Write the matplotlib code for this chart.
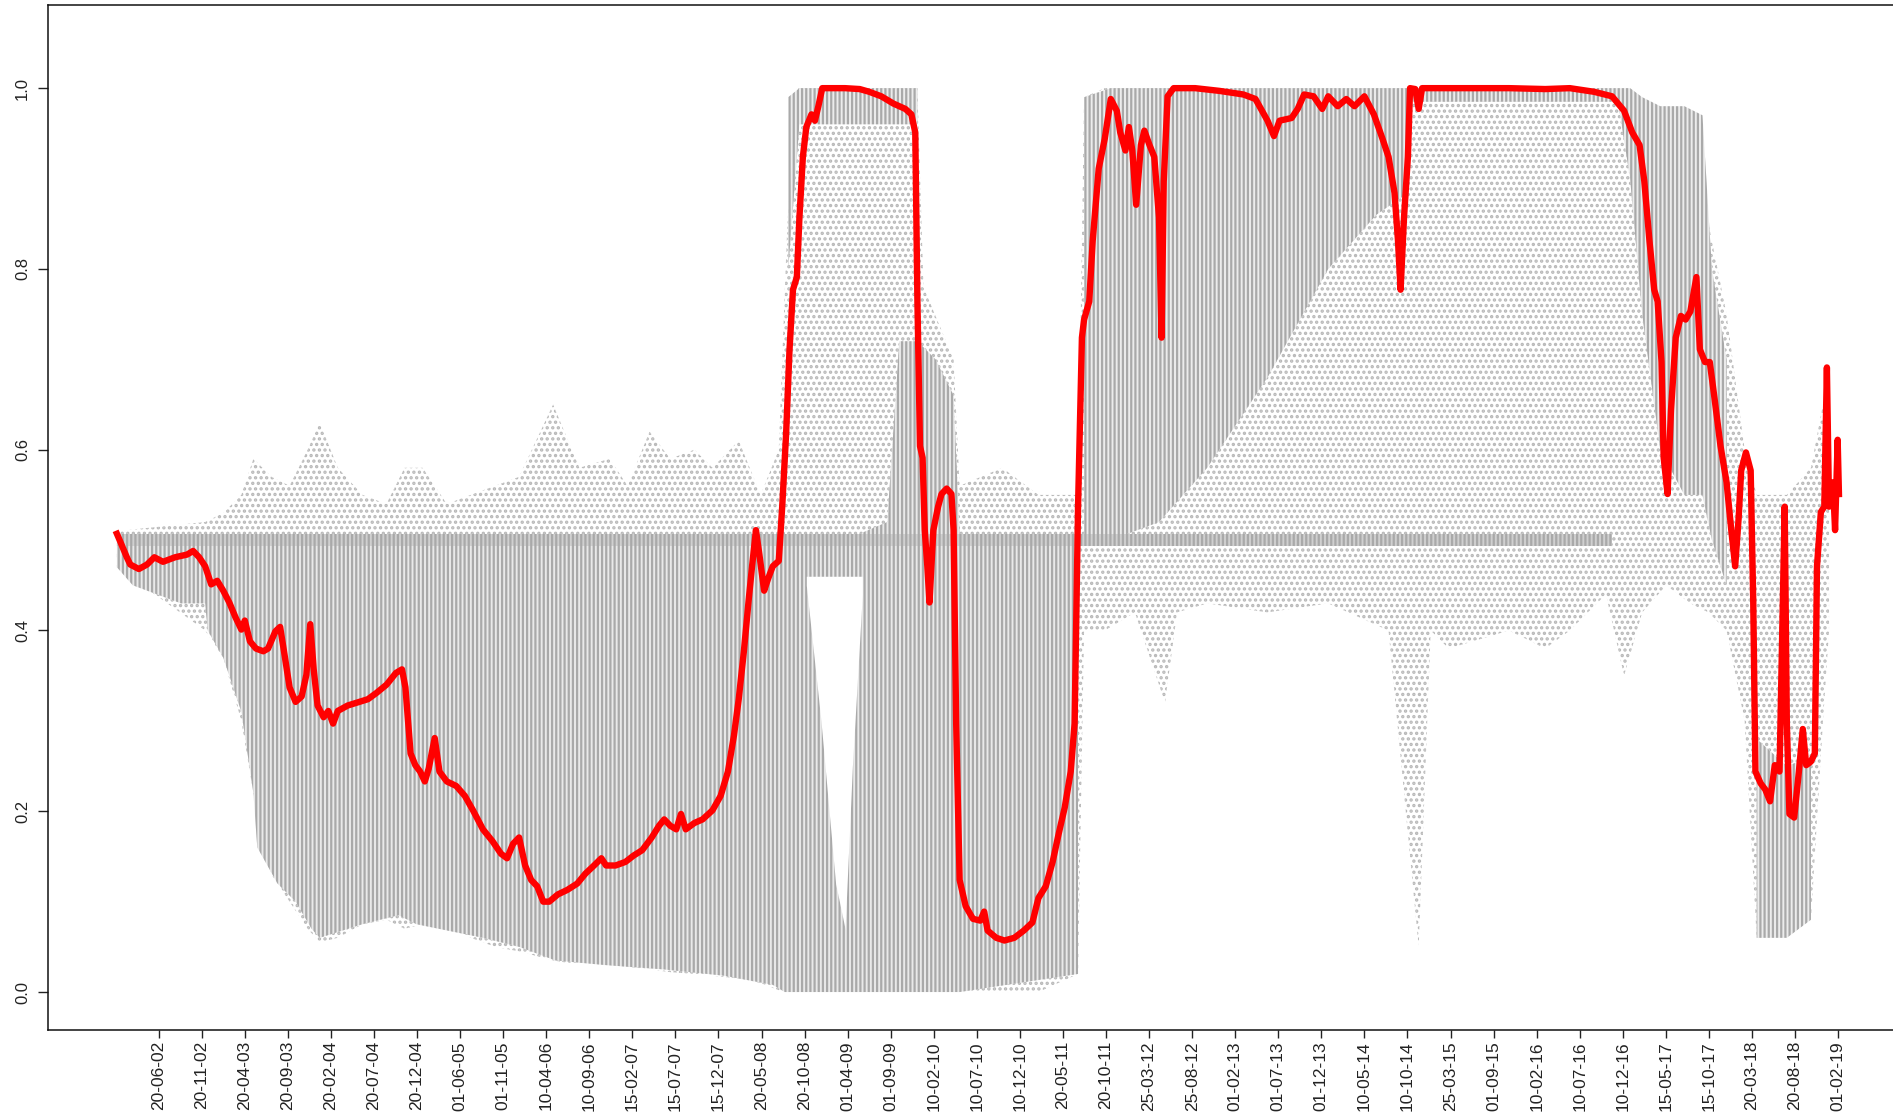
import numpy as np
import matplotlib
matplotlib.use("Agg")
import matplotlib.pyplot as plt

plt.rcParams['font.family'] = ['Liberation Sans', 'DejaVu Sans']

# ---- data (observation index, probability) ----
red_x = [3, 12, 26, 34, 54, 73, 90, 110, 138, 166, 180, 194, 208, 222, 236, 250, 264, 278,
         292, 300, 312, 326, 343, 354, 371, 382, 393, 404, 418, 432, 443, 452, 460, 469,
         483, 494, 505, 516, 539, 559, 586, 606, 629, 651, 665, 673, 685, 696, 707, 718,
         727, 741, 752, 769, 791, 811, 830, 853, 875, 895, 909, 923, 937, 951, 965, 979,
         993, 1007, 1027, 1049, 1072, 1091, 1111, 1128, 1139, 1161, 1184, 1203, 1223,
         1245, 1262, 1274, 1288, 1302, 1313, 1324, 1344, 1363, 1386, 1405, 1422, 1436,
         1447, 1459, 1470, 1478, 1487, 1495, 1506, 1515, 1526, 1540, 1548, 1557, 1565,
         1573, 1582, 1588, 1596, 1604, 1616, 1624, 1632, 1641, 1666, 1694, 1728, 1750,
         1778, 1806, 1834, 1848, 1857, 1862, 1868, 1874, 1879, 1885, 1890, 1899, 1910,
         1918, 1930, 1941, 1946, 1952, 1960, 1974, 1991, 2008, 2017, 2025, 2045, 2064,
         2087, 2109, 2129, 2143, 2160, 2176, 2190, 2204, 2218, 2227, 2235, 2244, 2249,
         2261, 2269, 2283, 2297, 2311, 2325, 2333, 2345, 2353, 2361, 2370, 2381, 2389,
         2401, 2412, 2423, 2429, 2434, 2443, 2457, 2507, 2563, 2619, 2647, 2675, 2690,
         2703, 2731, 2745, 2760, 2782, 2802, 2816, 2838, 2858, 2877, 2900, 2922, 2942,
         2956, 2970, 2978, 2984, 2992, 3001, 3006, 3018, 3026, 3034, 3096, 3236, 3320,
         3377, 3433, 3475, 3503, 3522, 3539, 3550, 3562, 3573, 3581, 3590, 3595, 3604,
         3612, 3623, 3635, 3646, 3657, 3671, 3679, 3691, 3702, 3713, 3727, 3741, 3752,
         3761, 3769, 3775, 3786, 3797, 3803, 3808, 3820, 3831, 3842, 3853, 3864, 3876,
         3881, 3887, 3898, 3909, 3918, 3926, 3937, 3946, 3951, 3960, 3968, 3974, 3979,
         3988, 3993, 3999, 4002]
red_y = [0.507, 0.497, 0.481, 0.473, 0.468, 0.473, 0.481, 0.476, 0.481, 0.484, 0.488, 0.481,
         0.471, 0.451, 0.455, 0.444, 0.431, 0.415, 0.401, 0.411, 0.388, 0.380, 0.377, 0.380,
         0.399, 0.404, 0.371, 0.337, 0.321, 0.327, 0.351, 0.407, 0.357, 0.317, 0.304, 0.311,
         0.297, 0.311, 0.317, 0.320, 0.324, 0.331, 0.340, 0.353, 0.357, 0.337, 0.264, 0.251,
         0.244, 0.233, 0.247, 0.281, 0.244, 0.233, 0.228, 0.217, 0.201, 0.180, 0.167, 0.153,
         0.148, 0.164, 0.171, 0.140, 0.124, 0.117, 0.100, 0.100, 0.108, 0.113, 0.120, 0.131,
         0.140, 0.148, 0.140, 0.140, 0.144, 0.151, 0.157, 0.171, 0.184, 0.191, 0.184, 0.180,
         0.197, 0.180, 0.187, 0.191, 0.201, 0.217, 0.244, 0.284, 0.324, 0.377, 0.433, 0.471,
         0.511, 0.484, 0.444, 0.457, 0.471, 0.477, 0.537, 0.617, 0.711, 0.777, 0.791, 0.857,
         0.924, 0.957, 0.971, 0.964, 0.980, 1.000, 1.000, 1.000, 0.999, 0.996, 0.991, 0.983,
         0.977, 0.971, 0.951, 0.764, 0.604, 0.591, 0.511, 0.471, 0.431, 0.511, 0.537, 0.551,
         0.557, 0.551, 0.511, 0.297, 0.124, 0.095, 0.081, 0.079, 0.089, 0.068, 0.060, 0.057,
         0.060, 0.068, 0.077, 0.104, 0.117, 0.144, 0.175, 0.204, 0.244, 0.297, 0.537, 0.724,
         0.744, 0.764, 0.831, 0.911, 0.944, 0.988, 0.975, 0.951, 0.931, 0.957, 0.931, 0.871,
         0.937, 0.953, 0.937, 0.924, 0.857, 0.724, 0.897, 0.991, 1.000, 1.000, 0.997, 0.993,
         0.988, 0.964, 0.947, 0.964, 0.967, 0.977, 0.993, 0.991, 0.977, 0.991, 0.980, 0.988,
         0.980, 0.991, 0.971, 0.944, 0.924, 0.884, 0.831, 0.777, 0.857, 0.924, 1.000, 0.999,
         0.977, 1.000, 1.000, 1.000, 0.999, 1.000, 0.996, 0.991, 0.975, 0.951, 0.937, 0.897,
         0.831, 0.777, 0.764, 0.697, 0.591, 0.551, 0.644, 0.724, 0.748, 0.744, 0.753, 0.791,
         0.711, 0.697, 0.697, 0.657, 0.604, 0.564, 0.511, 0.471, 0.524, 0.577, 0.597, 0.577,
         0.431, 0.244, 0.231, 0.224, 0.211, 0.251, 0.244, 0.537, 0.297, 0.197, 0.193, 0.244,
         0.291, 0.251, 0.255, 0.264, 0.471, 0.531, 0.537, 0.691, 0.537, 0.564, 0.511, 0.611,
         0.551]

# sparse cloud of simulated paths (outer envelope)
cloud_x = [3, 208, 250, 292, 320, 362, 404, 446, 474, 516, 573, 629, 671, 713, 769, 825,
           881, 937, 1016, 1077, 1147, 1189, 1240, 1288, 1344, 1386, 1447, 1498, 1540,
           1560, 1582, 1862, 1876, 1946, 1960, 2059, 2143, 2235, 2249, 2297, 2367, 2437,
           2465, 2535, 2675, 2816, 2956, 3026, 3054, 3096, 3236, 3320, 3377, 3461, 3503,
           3545, 3601, 3657, 3699, 3741, 3783, 3811, 3881, 3937, 3965, 3979]
cloud_lo = [0.47, 0.40, 0.37, 0.30, 0.22, 0.13, 0.10, 0.07, 0.055, 0.06, 0.075, 0.08, 0.07,
            0.075, 0.075, 0.06, 0.05, 0.045, 0.035, 0.03, 0.03, 0.028, 0.025, 0.022, 0.02,
            0.018, 0.015, 0.01, 0.002, 0.0, 0.0, 0.0, 0.0, 0.0, 0.0, 0.0, 0.0, 0.02, 0.40,
            0.40, 0.42, 0.32, 0.42, 0.43, 0.42, 0.43, 0.40, 0.05, 0.40, 0.38, 0.40, 0.38,
            0.40, 0.44, 0.35, 0.42, 0.45, 0.43, 0.42, 0.40, 0.30, 0.06, 0.07, 0.08, 0.30,
            0.40]
cloud_hi = [0.51, 0.52, 0.53, 0.55, 0.59, 0.57, 0.56, 0.60, 0.63, 0.58, 0.55, 0.54, 0.58,
            0.58, 0.54, 0.55, 0.56, 0.57, 0.65, 0.58, 0.59, 0.56, 0.62, 0.59, 0.60, 0.58,
            0.61, 0.55, 0.60, 0.85, 1.0, 1.0, 0.78, 0.70, 0.56, 0.58, 0.55, 0.55, 0.99,
            1.0, 1.0, 1.0, 1.0, 1.0, 1.0, 1.0, 1.0, 1.0, 1.0, 1.0, 1.0, 1.0, 1.0, 1.0,
            0.99, 0.98, 0.96, 0.90, 0.85, 0.75, 0.60, 0.55, 0.55, 0.58, 0.65, 0.65]

# dense band of paths below 0.5 (left part)
band_x = [3, 40, 96, 152, 208, 214, 250, 292, 320, 329, 376, 418, 455, 474, 573, 657, 699,
          853, 937, 1021, 1133, 1274, 1414, 1526, 1554, 1694, 1792, 1820, 1862, 1904, 1946,
          1960, 2235]
band_lo = [0.47, 0.45, 0.44, 0.43, 0.43, 0.40, 0.37, 0.31, 0.22, 0.16, 0.12, 0.10, 0.07,
           0.06, 0.075, 0.085, 0.075, 0.06, 0.05, 0.035, 0.03, 0.025, 0.018, 0.008, 0.0,
           0.0, 0.0, 0.0, 0.0, 0.0, 0.0, 0.0, 0.02]
band_hi = [0.505, 0.505, 0.505, 0.505, 0.505, 0.505, 0.505, 0.505, 0.505, 0.505, 0.505,
           0.505, 0.505, 0.505, 0.505, 0.505, 0.505, 0.505, 0.505, 0.505, 0.505, 0.505,
           0.505, 0.505, 0.50, 0.50, 0.52, 0.72, 0.72, 0.70, 0.66, 0.505, 0.505]

# dense band of paths near the top / right part (nan = no band)
top_x = [1562, 1588, 1862, 1865, 2241, 2249, 2311, 2423, 2535, 2675, 2816, 2928, 2989,
         3006, 3489, 3517, 3545, 3587, 3643, 3685, 3707, 3741, 3769, 3803, 3811, 3881,
         3937, 3946]
top_lo = [0.80, 0.96, 0.96, np.nan, np.nan, 0.50, 0.50, 0.52, 0.58, 0.68, 0.80, 0.86,
          0.88, 0.985, 0.985, 0.90, 0.75, 0.60, 0.55, 0.55, 0.50, 0.45, np.nan, np.nan,
          0.06, 0.06, 0.08, np.nan]
top_hi = [0.99, 1.0, 1.0, np.nan, np.nan, 0.99, 1.0, 1.0, 1.0, 1.0, 1.0, 1.0, 1.0, 1.0,
          1.0, 1.0, 0.99, 0.98, 0.98, 0.97, 0.80, 0.70, np.nan, np.nan, 0.28, 0.25, 0.26,
          np.nan]

# paths sitting at 0.5
mid_x = [3, 3475]
mid_lo = [0.493, 0.493]
mid_hi = [0.507, 0.507]

# empty wedge inside the 2009 block
gap_x = [1604, 1638, 1672, 1694, 1711, 1734]
gap_lo = [0.45, 0.30, 0.12, 0.07, 0.25, 0.44]
gap_hi = [0.46, 0.46, 0.46, 0.46, 0.46, 0.46]

tick_pos = list(range(100, 4001, 100))
tick_labels = ['20-06-02', '20-11-02', '20-04-03', '20-09-03', '20-02-04', '20-07-04',
               '20-12-04', '01-06-05', '01-11-05', '10-04-06', '10-09-06', '15-02-07',
               '15-07-07', '15-12-07', '20-05-08', '20-10-08', '01-04-09', '01-09-09',
               '10-02-10', '10-07-10', '10-12-10', '20-05-11', '20-10-11', '25-03-12',
               '25-08-12', '01-02-13', '01-07-13', '01-12-13', '10-05-14', '10-10-14',
               '25-03-15', '01-09-15', '10-02-16', '10-07-16', '10-12-16', '15-05-17',
               '15-10-17', '20-03-18', '20-08-18', '01-02-19']

GRAY = '#a9a9a9'

fig = plt.figure(figsize=(18.93, 11.14), dpi=100)
ax = fig.add_axes([48 / 1893, 84 / 1114, 1862 / 1893, 1025 / 1114])

plt.rcParams['hatch.linewidth'] = 1.6

# speckle cloud
ax.fill_between(cloud_x, cloud_lo, cloud_hi, facecolor='none', edgecolor='#b8b8b8',
                hatch='...', linewidth=0)
# vertical stripes of dense paths
ax.fill_between(band_x, band_lo, band_hi, facecolor='#e9e9e9', edgecolor=GRAY,
                hatch='||||', linewidth=0)
ax.fill_between(top_x, top_lo, top_hi, facecolor='#ececec', edgecolor=GRAY,
                hatch='||||', linewidth=0)
ax.fill_between(mid_x, mid_lo, mid_hi, facecolor='#d0d0d0', edgecolor=GRAY,
                hatch='||||', linewidth=0)
ax.fill_between(gap_x, gap_lo, gap_hi, color='white', linewidth=0)

ax.plot(red_x, red_y, color='#ff0000', linewidth=4.6, solid_joinstyle='round')

ax.set_xlim(-157, 4167)
ax.set_ylim(-0.042, 1.092)

for side in ['left', 'bottom', 'top', 'right']:
    ax.spines[side].set_linewidth(1.1)
    ax.spines[side].set_color('#111111')

ax.set_yticks([0.0, 0.2, 0.4, 0.6, 0.8, 1.0])
ax.set_yticklabels(['0.0', '0.2', '0.4', '0.6', '0.8', '1.0'], rotation=90, va='center')
ax.set_xticks(tick_pos)
ax.set_xticklabels(tick_labels, rotation=90)
ax.tick_params(axis='y', direction='out', length=7, width=1, pad=6, labelsize=12,
               colors='#222222')
ax.tick_params(axis='x', direction='out', length=6, width=1, pad=2, labelsize=12.5,
               colors='#222222')

fig.savefig('out.png', dpi=100)
